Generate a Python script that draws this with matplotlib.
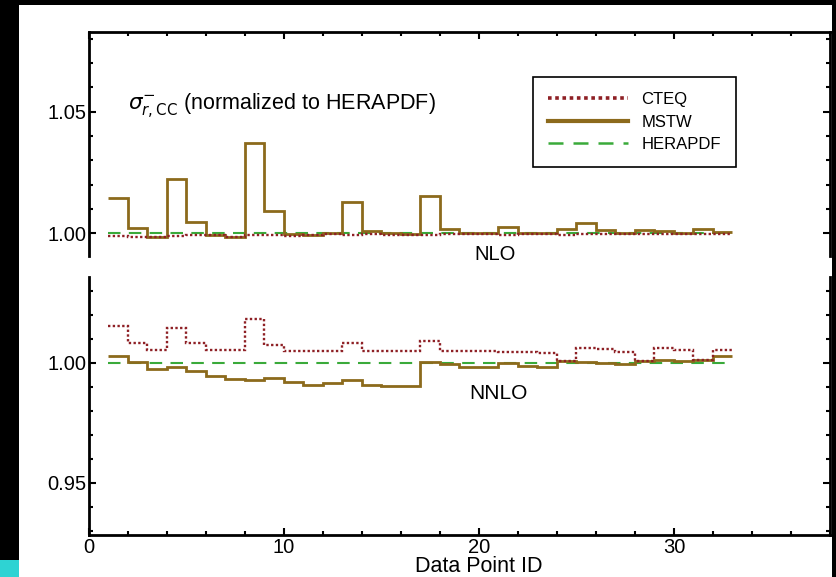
import numpy as np
import matplotlib

matplotlib.use("Agg")
import matplotlib.pyplot as plt
from matplotlib.patches import Rectangle
from matplotlib.ticker import MultipleLocator

plt.rcParams["font.family"] = ["Liberation Sans", "DejaVu Sans"]
plt.rcParams["mathtext.fontset"] = "dejavusans"

# data point IDs (bin edges) and ratio values per bin
point_ids = np.arange(1, 34)

nlo_cteq = [0.9989, 0.9987, 0.9985, 0.9991, 0.9992, 0.9993, 0.9986, 0.9995, 0.9993, 0.9991,
            0.9994, 0.9996, 0.9993, 0.9996, 0.9995, 0.9994, 0.9995, 0.9996, 0.9997, 0.9996,
            0.9995, 0.9996, 0.9997, 0.9995, 0.9996, 0.9997, 0.9998, 0.9996, 0.9997, 0.9998,
            0.9997, 0.9998]
nlo_mstw = [1.0146, 1.0023, 0.9984, 1.0223, 1.0045, 0.9993, 0.9986, 1.0373, 1.0090, 0.9996,
            0.9995, 1.0000, 1.0127, 1.0010, 1.0000, 0.9997, 1.0153, 1.0018, 1.0000, 1.0000,
            1.0027, 1.0000, 1.0000, 1.0016, 1.0041, 1.0014, 1.0000, 1.0014, 1.0010, 1.0000,
            1.0016, 1.0007]
nlo_hera = [1.0] * 32

nnlo_cteq = [1.0153, 1.0084, 1.0053, 1.0146, 1.0081, 1.0053, 1.0053, 1.0181, 1.0076, 1.0049,
             1.0049, 1.0049, 1.0084, 1.0049, 1.0049, 1.0049, 1.0091, 1.0049, 1.0048, 1.0048,
             1.0047, 1.0046, 1.0043, 1.0010, 1.0063, 1.0056, 1.0046, 1.0007, 1.0063, 1.0053,
             1.0014, 1.0053]
nnlo_mstw = [1.0030, 1.0005, 0.9973, 0.9984, 0.9967, 0.9946, 0.9935, 0.9928, 0.9939, 0.9919,
             0.9910, 0.9915, 0.9928, 0.9910, 0.9905, 0.9905, 1.0002, 0.9995, 0.9984, 0.9984,
             0.9998, 0.9987, 0.9981, 1.0007, 1.0004, 1.0000, 0.9994, 1.0007, 1.0011, 1.0007,
             1.0014, 1.0028]
nnlo_hera = [1.0] * 32

colors = {"CTEQ": "#8e2025", "MSTW": "#8c6a1c", "HERAPDF": "#3aaa3a"}

W, H = 837, 577
fig = plt.figure(figsize=(W / 100, H / 100), dpi=100, facecolor="black")
fig.patches.append(Rectangle((19 / W, 0), (832 - 19) / W, (H - 5) / H,
                             transform=fig.transFigure, facecolor="white", edgecolor="none", zorder=-10))
fig.patches.append(Rectangle((0, 0), 19 / W, 17 / H,
                             transform=fig.transFigure, facecolor="#2ed3d3", edgecolor="none", zorder=-10))

left, right = 89 / W, 830 / W
ax_top = fig.add_axes([left, 1 - 256 / H, right - left, (256 - 32) / H])
ax_bot = fig.add_axes([left, 1 - 535 / H, right - left, (535 - 277) / H])


def draw_panel(ax, cteq, mstw, hera):
    ax.stairs(hera, point_ids, baseline=None, color=colors["HERAPDF"], lw=1.5,
              linestyle=(0, (6, 4)), label="HERAPDF", zorder=2)
    ax.stairs(mstw, point_ids, baseline=None, color=colors["MSTW"], lw=2.0, label="MSTW", zorder=3)
    ax.stairs(cteq, point_ids, baseline=None, color=colors["CTEQ"], lw=1.7,
              linestyle=(0, (1.0, 1.0)), label="CTEQ", zorder=4)
    ax.set_xlim(0, 38)
    ax.xaxis.set_major_locator(MultipleLocator(10))
    ax.xaxis.set_minor_locator(MultipleLocator(2))
    ax.yaxis.set_major_locator(MultipleLocator(0.05))
    ax.yaxis.set_minor_locator(MultipleLocator(0.01))
    ax.yaxis.set_major_formatter(lambda v, p: f"{v:.2f}")
    ax.tick_params(which="both", direction="in", top=True, right=True, labelsize=14.5, width=1.5, pad=2)
    ax.tick_params(which="major", length=5)
    ax.tick_params(which="minor", length=3)
    for s in ax.spines.values():
        s.set_linewidth(2.0)


draw_panel(ax_top, nlo_cteq, nlo_mstw, nlo_hera)
draw_panel(ax_bot, nnlo_cteq, nnlo_mstw, nnlo_hera)

ax_top.set_ylim(0.9907, 1.0828)
ax_top.spines["bottom"].set_visible(False)
ax_top.tick_params(which="both", bottom=False, labelbottom=False)

ax_bot.set_ylim(0.9283, 1.0358)
ax_bot.spines["top"].set_visible(False)
ax_bot.tick_params(which="both", top=False)
ax_bot.set_xlabel("Data Point ID", fontsize=15.5)
ax_bot.xaxis.set_label_coords(20.0 / 38, -31 / 258)
ax_bot.xaxis.label.set_va("center")

ax_top.text(2.0, 1.0527, r"$\sigma^{-}_{r,\mathrm{CC}}$ (normalized to HERAPDF)", fontsize=15.5, va="center")
ax_top.text(20.8, 0.9912, "NLO", fontsize=14.5, ha="center", va="center")
ax_bot.text(21.0, 0.9874, "NNLO", fontsize=15, ha="center", va="center")

handles, labels = ax_top.get_legend_handles_labels()
order = [2, 1, 0]
leg = ax_top.legend([handles[i] for i in order], [labels[i] for i in order],
                    loc="upper left", bbox_to_anchor=(0.599, 0.799), fontsize=12,
                    handlelength=4.8, handletextpad=0.8, labelspacing=0.45,
                    fancybox=False, edgecolor="black", framealpha=1, borderpad=0.9,
                    borderaxespad=0)
leg.get_frame().set_linewidth(1.2)
for h, lw in zip(leg.legend_handles, [2.6, 3.0, 1.8]):
    h.set_linewidth(lw)

fig.savefig("out.png", dpi=100, facecolor=fig.get_facecolor())
